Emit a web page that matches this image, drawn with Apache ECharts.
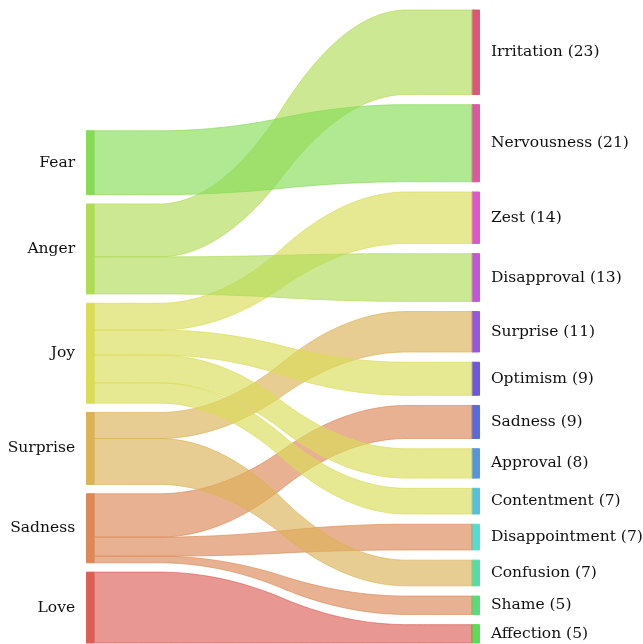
<!DOCTYPE html>
<html>
<head>
<meta charset="UTF-8">
<title>Emotion flows</title>
<script src="https://cdn.jsdelivr.net/npm/echarts@6/dist/echarts.min.js"></script>
<style>
  html, body { margin: 0; padding: 0; background: #fff; }
  #main { width: 643px; height: 644px; }
</style>
</head>
<body>
<div id="main"></div>
<script>
// labels listed from bottom to top
var leftLabels = ['Love', 'Sadness', 'Surprise', 'Joy', 'Anger', 'Fear'];
var rightLabels = ['Affection', 'Shame', 'Confusion', 'Disappointment', 'Contentment', 'Approval',
	'Sadness', 'Optimism', 'Surprise', 'Disapproval', 'Zest', 'Nervousness', 'Irritation'];
var rightCounts = [5, 5, 7, 7, 7, 8, 9, 9, 11, 13, 14, 21, 23];

// one strip per left -> right pair
var flowLeft = ['Love', 'Sadness', 'Sadness', 'Sadness', 'Surprise', 'Surprise',
	'Joy', 'Joy', 'Joy', 'Joy', 'Anger', 'Anger', 'Fear'];
var flowRight = ['Affection', 'Shame', 'Disappointment', 'Sadness', 'Confusion', 'Surprise',
	'Contentment', 'Approval', 'Optimism', 'Zest', 'Disapproval', 'Irritation', 'Nervousness'];
var flowLeftWeight = [19.3, 1.8, 5.2, 11.8, 12.5, 7.1, 5.5, 7.6, 6.8, 7.3, 10.1, 14.4, 17.4];
var flowRightWeight = [5, 5, 7, 9, 7, 11, 7, 8, 9, 14, 13, 23, 21];

var FONT = '"DejaVu Serif", serif';

function sum(a) {
	return a.reduce(function (s, v) { return s + v; }, 0);
}

// hls palette, one hue per label (left labels then right labels)
function hlsRgb(h, l, s) {
	var m2 = l <= 0.5 ? l * (1 + s) : l + s - l * s;
	var m1 = 2 * l - m2;
	function v(hue) {
		hue = ((hue % 1) + 1) % 1;
		if (hue < 1 / 6) return m1 + (m2 - m1) * hue * 6;
		if (hue < 0.5) return m2;
		if (hue < 2 / 3) return m1 + (m2 - m1) * (2 / 3 - hue) * 6;
		return m1;
	}
	return [v(h + 1 / 3), v(h), v(h - 1 / 3)].map(function (x) { return Math.round(x * 255); });
}
var allKeys = leftLabels.map(function (n) { return 'L:' + n; })
	.concat(rightLabels.map(function (n) { return 'R:' + n; }));
var colorOf = {};
allKeys.forEach(function (k, i) {
	colorOf[k] = hlsRgb((i / allKeys.length + 0.01) % 1, 0.6, 0.65);
});
function rgba(c, a) {
	return 'rgba(' + c[0] + ',' + c[1] + ',' + c[2] + ',' + a + ')';
}

// stack the nodes from the bottom, gap = 2% of side total
var gapL = 0.02 * sum(flowLeftWeight);
var gapR = 0.02 * sum(flowRightWeight);
var nodes = [];
var leftPos = {}, rightPos = {};
var y = 0;
leftLabels.forEach(function (name) {
	var h = 0;
	flowLeft.forEach(function (l, i) { if (l === name) h += flowLeftWeight[i]; });
	leftPos[name] = { bottom: y, top: y + h, cur: y };
	nodes.push({ side: 'L', name: name, bottom: y, top: y + h, text: name });
	y += h + gapL;
});
y = 0;
rightLabels.forEach(function (name, k) {
	var h = 0;
	flowRight.forEach(function (r, i) { if (r === name) h += flowRightWeight[i]; });
	rightPos[name] = { bottom: y, top: y + h, cur: y };
	nodes.push({ side: 'R', name: name, bottom: y, top: y + h, text: name + ' (' + rightCounts[k] + ')' });
	y += h + gapR;
});
var yTop = y - gapR;

var strips = [];
leftLabels.forEach(function (ln) {
	rightLabels.forEach(function (rn) {
		for (var i = 0; i < flowLeft.length; i++) {
			if (flowLeft[i] === ln && flowRight[i] === rn) {
				var lp = leftPos[ln], rp = rightPos[rn];
				strips.push({
					left: ln, right: rn,
					l0: lp.cur, l1: lp.cur + flowLeftWeight[i],
					r0: rp.cur, r1: rp.cur + flowRightWeight[i],
					value: [flowLeftWeight[i], flowRightWeight[i]]
				});
				lp.cur += flowLeftWeight[i];
				rp.cur += flowRightWeight[i];
			}
		}
	});
});

// smoothed step (two box filters) for the strip curve
var prof = (function () {
	var s = [];
	for (var i = 0; i < 100; i++) s.push(i < 50 ? 0 : 1);
	function conv(a) {
		var o = [];
		for (var i = 0; i + 20 <= a.length; i++) {
			var t = 0;
			for (var j = 0; j < 20; j++) t += a[i + j];
			o.push(t * 0.05);
		}
		return o;
	}
	return conv(conv(s));
})();

function renderStrip(params, api) {
	var st = strips[params.dataIndex];
	var n = prof.length, pts = [], i;
	for (i = 0; i < n; i++) {
		pts.push(api.coord([i / (n - 1), st.l0 + (st.r0 - st.l0) * prof[i]]));
	}
	for (i = n - 1; i >= 0; i--) {
		pts.push(api.coord([i / (n - 1), st.l1 + (st.r1 - st.l1) * prof[i]]));
	}
	var c = colorOf['L:' + st.left];
	return {
		type: 'polygon',
		shape: { points: pts },
		style: { fill: rgba(c, 0.65), stroke: rgba(c, 0.65), lineWidth: 1 }
	};
}

function renderNode(params, api) {
	var nd = nodes[params.dataIndex];
	var isL = nd.side === 'L';
	var x0 = isL ? -0.02 : 1, x1 = isL ? 0 : 1.02;
	var p0 = api.coord([x0, nd.top]);
	var p1 = api.coord([x1, nd.bottom]);
	var pt = api.coord([isL ? -0.05 : 1.05, (nd.top + nd.bottom) / 2]);
	var c = colorOf[nd.side + ':' + nd.name];
	return {
		type: 'group',
		children: [{
			type: 'rect',
			shape: { x: p0[0], y: p0[1], width: p1[0] - p0[0], height: p1[1] - p0[1] },
			style: { fill: rgba(c, 1), stroke: rgba(c, 1), lineWidth: 1 }
		}, {
			type: 'text',
			x: pt[0], y: pt[1],
			style: {
				text: nd.text, fill: '#111', fontSize: 15.5, fontFamily: FONT,
				align: isL ? 'right' : 'left', verticalAlign: 'middle'
			}
		}]
	};
}

var chart = echarts.init(document.getElementById('main'));
chart.setOption({
	animation: false,
	grid: { left: 94, right: 171, top: 10, bottom: 1 },
	xAxis: { type: 'value', min: 0, max: 1, show: false },
	yAxis: { type: 'value', min: 0, max: yTop, show: false },
	series: [{
		type: 'custom',
		z: 1,
		renderItem: renderNode,
		data: nodes.map(function (nd) { return [nd.bottom, nd.top]; })
	}, {
		type: 'custom',
		z: 2,
		renderItem: renderStrip,
		data: strips.map(function (st) { return st.value; })
	}]
});
</script>
</body>
</html>
